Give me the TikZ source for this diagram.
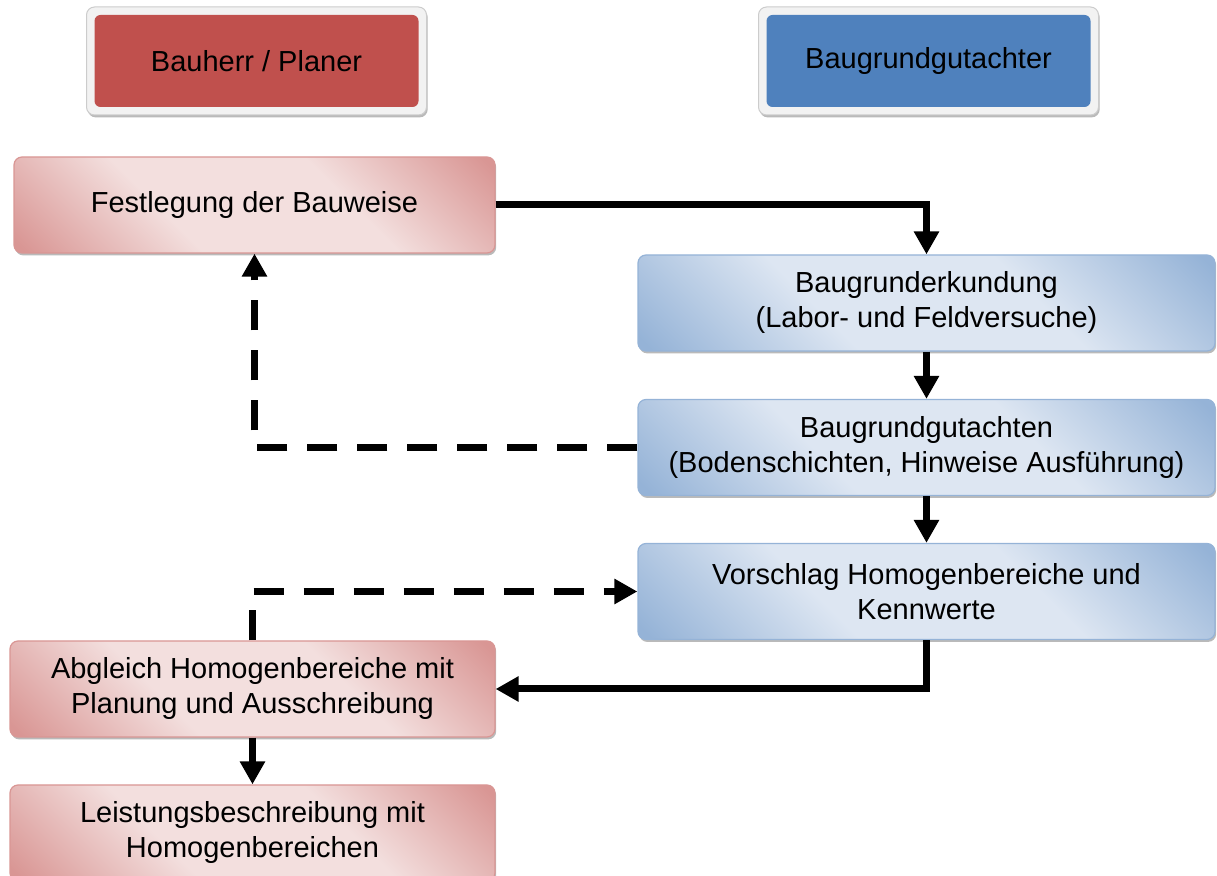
\documentclass[tikz,border=0pt]{standalone}
\usepackage{fontspec}
\setmainfont{Liberation Sans}
\usetikzlibrary{arrows.meta, shadows}

\definecolor{rotvoll}{HTML}{C0504D}
\definecolor{blauvoll}{HTML}{4F81BD}
\definecolor{rotlicht}{HTML}{F3DFDE}
\definecolor{rotmittel}{HTML}{D99694}
\definecolor{blaulicht}{HTML}{DDE6F2}
\definecolor{blaumittel}{HTML}{95B3D7}
\definecolor{rahmen}{HTML}{F2F2F2}

\pgfdeclareverticalshading{rotverlauf}{100bp}{color(0bp)=(rotmittel); color(16bp)=(rotmittel); color(38bp)=(rotlicht); color(62bp)=(rotlicht); color(84bp)=(rotmittel); color(100bp)=(rotmittel)}
\pgfdeclareverticalshading{blauverlauf}{100bp}{color(0bp)=(blaumittel); color(16bp)=(blaumittel); color(38bp)=(blaulicht); color(62bp)=(blaulicht); color(84bp)=(blaumittel); color(100bp)=(blaumittel)}

\tikzstyle{box}       = [rectangle, rounded corners=4pt, align=center,
                         font=\fontsize{14.5}{17.5}\selectfont,
                         drop shadow={shadow xshift=0.6pt, shadow yshift=-1.2pt, opacity=0.45, fill=black!60}]
\tikzstyle{planer}    = [box, draw=rotmittel, line width=0.6pt, shading=rotverlauf, shading angle=-45,
                         minimum width=240.5pt, minimum height=48pt]
\tikzstyle{gutachter} = [box, draw=blaumittel, line width=0.6pt, shading=blauverlauf, shading angle=-45,
                         minimum width=288.5pt, minimum height=48pt]
\tikzstyle{kopf}      = [box, draw=black!20, line width=0.5pt, fill=rahmen,
                         minimum width=170pt, minimum height=54pt]
\tikzstyle{kopfrot}   = [kopf, path picture={\fill [rotvoll, rounded corners=3pt]
                         ([shift={(4pt,-4pt)}]path picture bounding box.north west) rectangle
                         ([shift={(-4pt,4pt)}]path picture bounding box.south east);}]
\tikzstyle{kopfblau}  = [kopf, path picture={\fill [blauvoll, rounded corners=3pt]
                         ([shift={(4pt,-4pt)}]path picture bounding box.north west) rectangle
                         ([shift={(-4pt,4pt)}]path picture bounding box.south east);}]
\tikzstyle{pfeil}     = [draw, line width=3.5pt, -{Triangle[width=12pt, length=11.5pt]}]
\tikzstyle{strich}    = [pfeil, dash pattern=on 15pt off 10pt]
\tikzstyle{hv}        = [to path={-| (\tikztotarget)}]
\tikzstyle{vh}        = [to path={|- (\tikztotarget)}]

\begin{document}
\begin{tikzpicture}[x=0.5pt, y=-0.5pt]
\useasboundingbox (0,0) rectangle (1217,876);
\clip (0,0) rectangle (1217,876);

% nodes
\node [kopfrot]   at ( 256.5,  61  ) (bauherr) {Bauherr / Planer};
\node [kopfblau]  at ( 928.5,  61  ) (gutachter) {Baugrundgutachter};

\node [planer]    at ( 254.5, 205  ) (fest)  {Festlegung der Bauweise};
\node [gutachter] at ( 926.5, 303  ) (erk)   {Baugrunderkundung\\(Labor- und Feldversuche)};
\node [gutachter] at ( 926.5, 447.5) (gut)   {Baugrundgutachten\\(Bodenschichten, Hinweise Ausführung)};
\node [gutachter] at ( 926.5, 591.5) (vor)   {Vorschlag Homogenbereiche und\\Kennwerte};
\node [planer, minimum width=242.5pt] at ( 252.5, 689) (abg) {Abgleich Homogenbereiche mit\\Planung und Ausschreibung};
\node [planer, minimum width=242.5pt] at ( 252.5, 833) (leist) {Leistungsbeschreibung mit\\Homogenbereichen};

% edges
\path [pfeil]  (fest) edge [hv] (erk)
               (erk)  edge      (gut)
               (gut)  edge      (vor)
               (vor)  edge [vh] (abg)
               (abg)  edge      (leist);

\path [strich] (gut)  edge [hv] (fest)
               (abg)  edge [vh] (vor);

\end{tikzpicture}
\end{document}
